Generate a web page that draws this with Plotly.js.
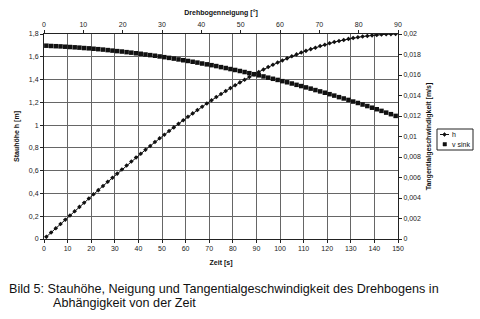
<!DOCTYPE html>
<html>
<head>
<meta charset="utf-8">
<script src="https://cdn.plot.ly/plotly-3.0.1.min.js"></script>
<style>html,body{margin:0;padding:0;background:#fff;}#chart{width:480px;height:319px;}</style>
</head>
<body>
<div id="chart"></div>
<script>
var zeit = [1,3,5,7,9,11,13,15,17,19,21,23,25,27,29,31,33,35,37,39,41,43,45,47,49,51,53,55,57,59,61,63,65,67,69,71,73,75,77,79,81,83,85,87,89,91,93,95,97,99,101,103,105,107,109,111,113,115,117,119,121,123,125,127,129,131,133,135,137,139,141,143,145,147,149];
var hValues = [0.019,0.057,0.094,0.132,0.169,0.207,0.244,0.282,0.319,0.356,0.393,0.429,0.466,0.502,0.538,0.574,0.610,0.645,0.680,0.715,0.749,0.783,0.817,0.851,0.884,0.916,0.949,0.980,1.012,1.043,1.073,1.103,1.133,1.162,1.190,1.218,1.246,1.273,1.299,1.325,1.350,1.375,1.399,1.422,1.445,1.467,1.489,1.510,1.530,1.549,1.568,1.586,1.604,1.621,1.637,1.652,1.667,1.680,1.694,1.706,1.718,1.729,1.739,1.748,1.757,1.765,1.772,1.778,1.783,1.788,1.792,1.795,1.798,1.799,1.800];
var vSink = [0.01886,0.01883,0.01881,0.01879,0.01876,0.01873,0.01870,0.01867,0.01863,0.01860,0.01856,0.01852,0.01848,0.01843,0.01838,0.01833,0.01829,0.01823,0.01818,0.01812,0.01807,0.01800,0.01794,0.01788,0.01781,0.01774,0.01767,0.01760,0.01752,0.01744,0.01737,0.01729,0.01721,0.01712,0.01704,0.01696,0.01687,0.01677,0.01668,0.01658,0.01649,0.01639,0.01629,0.01618,0.01608,0.01597,0.01586,0.01574,0.01563,0.01552,0.01540,0.01529,0.01517,0.01504,0.01492,0.01479,0.01467,0.01453,0.01440,0.01427,0.01413,0.01399,0.01384,0.01371,0.01357,0.01341,0.01327,0.01312,0.01297,0.01281,0.01266,0.01250,0.01233,0.01218,0.01201];
var neigungRange = [0, 90];
var seriesNames = ['h', 'v sink'];

var F = 'Liberation Sans, Arial, sans-serif';
var tickFont = {family: F, size: 7, color: '#222'};
var titleFont = {family: F, size: 7, color: '#111', weight: 'bold'};

var traces = [
  {x: zeit, y: hValues, name: seriesNames[0], type: 'scatter', mode: 'lines+markers',
   line: {color: '#111', width: 1}, marker: {symbol: 'diamond', size: 3.5, color: '#111'},
   xaxis: 'x', yaxis: 'y'},
  {x: zeit, y: vSink, name: seriesNames[1], type: 'scatter', mode: 'markers',
   marker: {symbol: 'square', size: 4.5, color: '#111'},
   xaxis: 'x', yaxis: 'y2'},
  {x: neigungRange, y: [null, null], type: 'scatter', mode: 'lines', showlegend: false,
   hoverinfo: 'skip', xaxis: 'x2', yaxis: 'y'}
];

var axisCommon = {showline: true, linecolor: '#222', linewidth: 1, ticks: 'outside', ticklen: 3,
  tickcolor: '#222', tickfont: tickFont, zeroline: false, color: '#222'};

// legend drawn in pixel positions converted to paper coordinates
var PL = 44, PW = 354, PB = 239, PH = 205;
function px(v) { return (v - PL) / PW; }
function py(v) { return (PB - v) / PH; }

var legendShapes = [
  {type: 'rect', xref: 'paper', yref: 'paper', x0: px(437), x1: px(473), y0: py(150), y1: py(129),
   line: {color: '#222', width: 1}, fillcolor: '#fff', layer: 'above'},
  {type: 'line', xref: 'paper', yref: 'paper', x0: px(440), x1: px(449), y0: py(134.5), y1: py(134.5),
   line: {color: '#111', width: 1}, layer: 'above'},
  {type: 'path', xref: 'paper', yref: 'paper', layer: 'above', fillcolor: '#111', line: {color: '#111', width: 0.5},
   path: 'M ' + px(444.5) + ' ' + py(132.5) + ' L ' + px(446.5) + ' ' + py(134.5) + ' L ' + px(444.5) + ' ' + py(136.5) + ' L ' + px(442.5) + ' ' + py(134.5) + ' Z'},
  {type: 'rect', xref: 'paper', yref: 'paper', x0: px(443), x1: px(446.5), y0: py(146), y1: py(142.5),
   fillcolor: '#111', line: {color: '#111', width: 0.5}, layer: 'above'}
];

var layout = {
  width: 480, height: 319,
  margin: {l: 44, r: 82, t: 34, b: 80, autoexpand: false},
  paper_bgcolor: '#fff', plot_bgcolor: '#fff',
  separators: ', ',
  showlegend: false,
  xaxis: Object.assign({}, axisCommon, {range: [0, 150], dtick: 10, tick0: 0, showgrid: true,
    gridcolor: '#666', gridwidth: 1,
    title: {text: 'Zeit [s]', font: titleFont, standoff: 8}}),
  xaxis2: Object.assign({}, axisCommon, {range: [0, 90], dtick: 10, tick0: 0, overlaying: 'x',
    side: 'top', anchor: 'y', showgrid: false,
    title: {text: 'Drehbogenneigung [°]', font: titleFont, standoff: 4}}),
  yaxis: Object.assign({}, axisCommon, {range: [0, 1.8], dtick: 0.2, tick0: 0, showgrid: true,
    gridcolor: '#666', gridwidth: 1,
    title: {text: 'Stauhöhe h [m]', font: titleFont, standoff: 8}}),
  yaxis2: Object.assign({}, axisCommon, {range: [0, 0.02], dtick: 0.002, tick0: 0, overlaying: 'y',
    side: 'right', anchor: 'x', showgrid: false,
    title: {text: 'Tangentialgeschwindigkeit [m/s]', font: titleFont, standoff: 6}}),
  shapes: legendShapes,
  annotations: [
    {xref: 'paper', yref: 'paper', x: px(450), y: py(134.5), xanchor: 'left', yanchor: 'middle',
     text: seriesNames[0], showarrow: false, font: {family: F, size: 7, color: '#111'}},
    {xref: 'paper', yref: 'paper', x: px(450), y: py(144.3), xanchor: 'left', yanchor: 'middle',
     text: seriesNames[1], showarrow: false, font: {family: F, size: 7, color: '#111'}},
    {xref: 'paper', yref: 'paper', x: -0.104, y: -0.2, xanchor: 'left', yanchor: 'top',
     text: 'Bild 5: Stauhöhe, Neigung und Tangentialgeschwindigkeit des Drehbogens in', showarrow: false,
     font: {family: F, size: 12.6, color: '#111'}},
    {xref: 'paper', yref: 'paper', x: 0.02, y: -0.27, xanchor: 'left', yanchor: 'top',
     text: 'Abhängigkeit von der Zeit', showarrow: false,
     font: {family: F, size: 12.6, color: '#111'}}
  ]
};

Plotly.newPlot('chart', traces, layout, {displayModeBar: false, staticPlot: true});
</script>
</body>
</html>
